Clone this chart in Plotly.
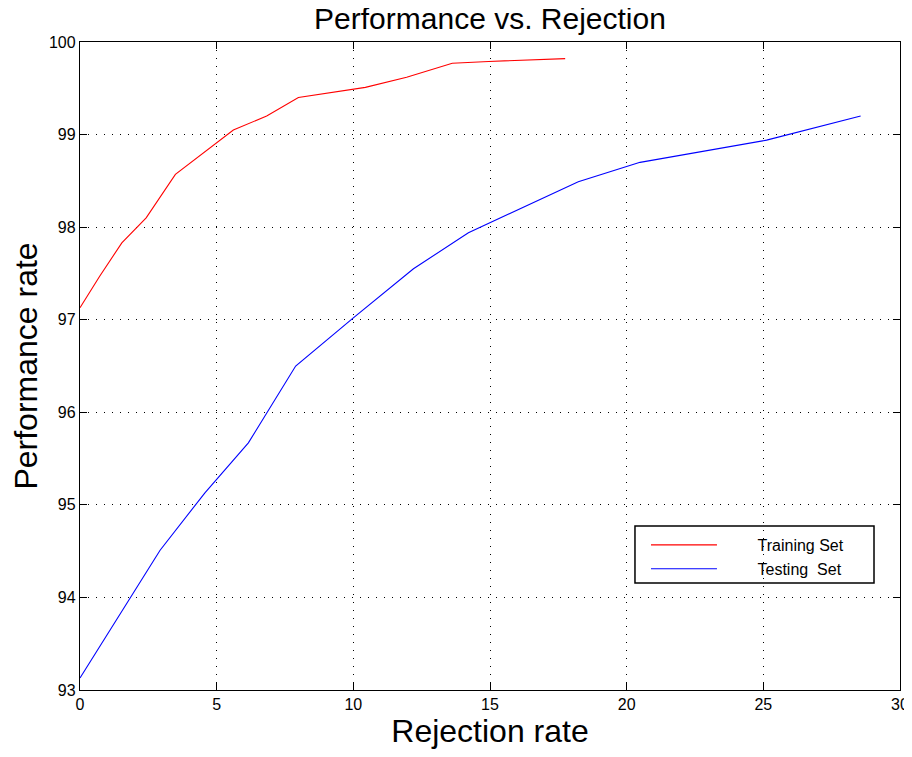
import plotly.graph_objects as go

train_x = [0, 0.72, 1.53, 2.42, 3.49, 5.61, 6.83, 7.99, 10.44, 11.95, 13.62, 14.95, 17.75]
train_y = [97.13, 97.47, 97.83, 98.10, 98.57, 99.05, 99.20, 99.40, 99.51, 99.62, 99.77, 99.79, 99.82]

test_x = [0, 2.93, 4.57, 6.16, 7.89, 10.0, 12.2, 14.21, 18.23, 20.49, 25.12, 28.56]
test_y = [93.13, 94.51, 95.13, 95.67, 96.50, 97.02, 97.55, 97.94, 98.49, 98.70, 98.94, 99.20]

x_ticks = [0, 5, 10, 15, 20, 25, 30]
y_ticks = [93, 94, 95, 96, 97, 98, 99, 100]

FONT = "Liberation Sans, Arial, sans-serif"
PAD = "\u00a0" * 8

fig = go.Figure()
fig.add_trace(go.Scatter(x=train_x, y=train_y, mode="lines",
                         line=dict(color="#ff0000", width=1.1),
                         name=PAD + "Training\u00a0Set"))
fig.add_trace(go.Scatter(x=test_x, y=test_y, mode="lines",
                         line=dict(color="#0000ff", width=1.1),
                         name=PAD + "Testing\u00a0\u00a0Set"))

axis_common = dict(
    showline=True, linecolor="black", linewidth=1.3, mirror="ticks",
    ticks="inside", ticklen=7, tickcolor="black", tickwidth=1,
    showgrid=True, gridcolor="black", griddash="1px,7px", gridwidth=1,
    zeroline=False, automargin=False, ticklabeloverflow="allow",
    tickfont=dict(family=FONT, size=16, color="black"),
)

# page body has an 8px margin, so the figure is sized to fit the 912x757 window
fig.update_layout(
    width=904, height=741,
    paper_bgcolor="white", plot_bgcolor="white",
    margin=dict(l=72, r=12, t=34, b=59),
    title=dict(text="Performance vs. Rejection", x=0.5, xanchor="center",
               xref="paper", yref="container",
               y=1.0, yanchor="top", pad=dict(t=0, b=0),
               font=dict(family=FONT, size=30, color="black")),
    xaxis=dict(range=[0, 30], tickvals=x_ticks,
               title=dict(text="Rejection rate", standoff=11,
                          font=dict(family=FONT, size=32, color="black")),
               **axis_common),
    yaxis=dict(range=[93, 100], tickvals=y_ticks,
               title=dict(text="Performance rate", standoff=8,
                          font=dict(family=FONT, size=32, color="black")),
               **axis_common),
    legend=dict(x=0.6902, y=0.25, xanchor="left", yanchor="top",
                borderwidth=0, bgcolor="rgba(0,0,0,0)",
                font=dict(family=FONT, size=16, color="black"),
                itemwidth=66, tracegroupgap=0),
    showlegend=True,
    shapes=[dict(type="rect", xref="paper", yref="paper",
                 x0=0.6768, x1=0.9683, y0=0.1651, y1=0.2531,
                 line=dict(color="black", width=1.5), fillcolor="white",
                 layer="below")],
)

fig.write_html("out.html")
